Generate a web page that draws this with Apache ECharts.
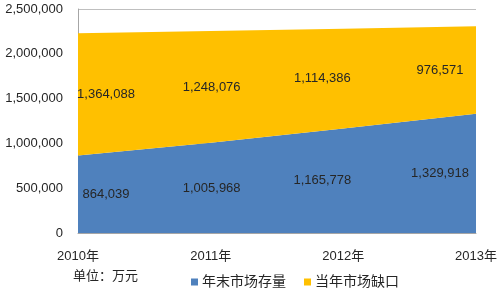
<!DOCTYPE html>
<html><head><meta charset="utf-8">
<script src="https://cdn.jsdelivr.net/npm/echarts@6/dist/echarts.min.js"></script>
<style>html,body{margin:0;padding:0;background:#fff}#c{width:500px;height:290px}</style>
</head><body><div id="c"></div>
<script>
const categories = ['2010年', '2011年', '2012年', '2013年'];
const stockName = '年末市场存量';
const gapName = '当年市场缺口';
const stockValues = [864039, 1005968, 1165778, 1329918];
const gapValues = [1364088, 1248076, 1114386, 976571];
const yTicks = [0, 500000, 1000000, 1500000, 2000000, 2500000];
const unitText = '单位：万元';

const FONT = '"Liberation Sans", "Noto Sans CJK SC", sans-serif';
const TXT = '#262626';
const labelDx = [28, 1, -21, -36];
const fmt = v => Number(v).toLocaleString('en-US');

const stockLabelData = stockValues.map((v, i) => [i, 0, v]);
const gapLabelData = gapValues.map((v, i) => [i, stockValues[i], v]);

function labelRender(params, api) {
  const i = params.dataIndex;
  const p = api.coord([api.value(0), api.value(1) + api.value(2) / 2]);
  return {
    type: 'text',
    x: p[0] + labelDx[i],
    y: p[1],
    style: {
      text: fmt(api.value(2)),
      textAlign: 'center',
      textVerticalAlign: 'middle',
      fontSize: 13,
      fontFamily: FONT,
      fill: TXT
    }
  };
}

const chart = echarts.init(document.getElementById('c'), null, {renderer: 'canvas'});
chart.setOption({
  animation: false,
  textStyle: {fontFamily: FONT},
  grid: {left: 78, right: 24, top: 9, bottom: 57},
  xAxis: {
    type: 'category',
    data: categories,
    boundaryGap: false,
    axisLine: {lineStyle: {color: '#a6a6a6'}},
    axisTick: {show: false},
    axisLabel: {color: TXT, fontSize: 13, fontFamily: FONT, margin: 17}
  },
  yAxis: {
    type: 'value',
    min: yTicks[0],
    max: yTicks[yTicks.length - 1],
    interval: yTicks[1] - yTicks[0],
    axisLine: {show: true, lineStyle: {color: '#a6a6a6'}},
    axisTick: {show: false},
    splitLine: {show: true, lineStyle: {color: '#bfbfbf'}},
    axisLabel: {color: TXT, fontSize: 13, fontFamily: FONT, margin: 15, formatter: v => fmt(v)}
  },
  legend: {
    data: [stockName, gapName],
    left: 186,
    top: 270,
    icon: 'rect',
    itemWidth: 7,
    itemHeight: 7,
    itemGap: 18,
    textStyle: {color: TXT, fontSize: 14, fontFamily: FONT, padding: [0, 0, 0, -1]}
  },
  graphic: [{
    type: 'text',
    left: 73,
    top: 270,
    style: {text: unitText, fontSize: 13, fontFamily: FONT, fill: TXT}
  }],
  series: [
    {
      name: stockName, type: 'line', stack: 'total', data: stockValues,
      showSymbol: false, symbol: 'none',
      lineStyle: {width: 0}, itemStyle: {color: '#4f81bd'},
      areaStyle: {color: '#4f81bd', opacity: 1}
    },
    {
      name: gapName, type: 'line', stack: 'total', data: gapValues,
      showSymbol: false, symbol: 'none',
      lineStyle: {width: 0}, itemStyle: {color: '#ffc000'},
      areaStyle: {color: '#ffc000', opacity: 1}
    },
    {
      type: 'custom', renderItem: labelRender, data: stockLabelData,
      encode: {x: 0, y: 1}, z: 10, silent: true
    },
    {
      type: 'custom', renderItem: labelRender, data: gapLabelData,
      encode: {x: 0, y: 1}, z: 10, silent: true
    }
  ]
});
</script></body></html>
